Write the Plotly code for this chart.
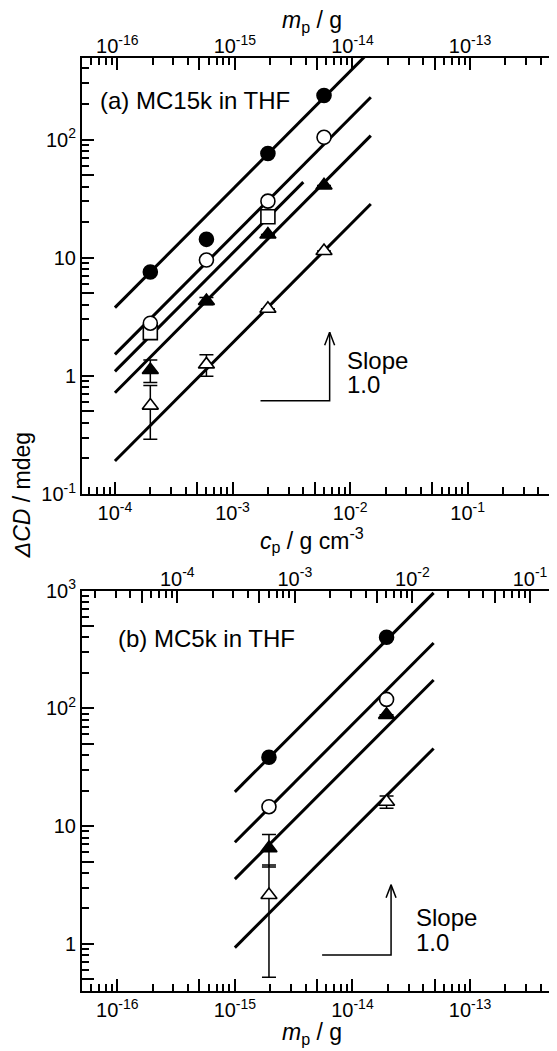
import plotly.graph_objects as go

FONT = "Liberation Sans, Arial, sans-serif"

# ---------------- panel (a): MC15k in THF, x = c_p / g cm^-3 ----------------
a_cp = [2e-4, 6e-4, 2e-3, 6e-3]
a_filled_circle = [7.56, 14.3, 76.2, 236]
a_open_circle = [2.79, 9.55, 30.1, 104.5]
a_square_cp = [2e-4, 2e-3]
a_open_square = [2.32, 22.2]
a_filled_tri = [1.12, 4.3, 15.7, 40.9]
a_filled_tri_err = [0.24, 0.3, 0, 0]
a_open_tri = [0.56, 1.25, 3.7, 11.4]
a_open_tri_err = [0.27, 0.26, 0, 0]

# slope-1 fit lines (start / end values)
a_fit_cp = [[1e-4, 1.5e-2], [1e-4, 1.5e-2], [1e-4, 4e-3], [1e-4, 1.5e-2], [1e-4, 1.5e-2]]
a_fit_cd = [[3.78, 567], [1.52, 228], [1.09, 43.6], [0.72, 108], [0.19, 28.5]]

# slope guide (horizontal then vertical leg)
a_slope_cp = [1.73e-3, 6.7e-3, 6.7e-3]
a_slope_cd = [0.614, 0.614, 2.34]

# ---------------- panel (b): MC5k in THF, x = m_p / g ----------------
b_mp = [1.95e-15, 1.95e-14]
b_filled_circle = [38.4, 401]
b_open_circle = [14.6, 119]
b_filled_tri = [6.5, 88]
b_filled_tri_err = [2.0, 0]
b_open_tri = [2.6, 16.1]
b_open_tri_err = [2.08, 1.9]

b_fit_mp = [[1e-15, 4.9e-14]] * 4
b_fit_cd = [[19.5, 955], [7.3, 358], [3.55, 174], [0.93, 45.6]]

b_slope_mp = [5.52e-15, 2.13e-14, 2.13e-14]
b_slope_cd = [0.805, 0.805, 3.17]

# ---------------- axis ranges (log10) & tick labels ----------------
a_c_range = [-4.28, -0.30]
a_m_range = [-16.30, -12.32]
a_y_range = [-1.0, 2.69]
b_m_range = [-16.30, -12.32]
b_c_range = [-4.81, -0.83]
b_y_range = [-0.40, 3.0]

c_tick_vals = [1e-4, 1e-3, 1e-2, 1e-1]
c_tick_text = ["10<sup>-4</sup>", "10<sup>-3</sup>", "10<sup>-2</sup>", "10<sup>-1</sup>"]
m_tick_vals = [1e-16, 1e-15, 1e-14, 1e-13]
m_tick_text = ["10<sup>-16</sup>", "10<sup>-15</sup>", "10<sup>-14</sup>", "10<sup>-13</sup>"]
a_y_tick_vals = [0.1, 1, 10, 100]
a_y_tick_text = ["10<sup>-1</sup>", "1", "10", "10<sup>2</sup>"]
b_y_tick_vals = [1, 10, 100, 1000]
b_y_tick_text = ["1", "10", "10<sup>2</sup>", "10<sup>3</sup>"]

# page has an 8 px body margin: figure spans page x 8..557, y 8..1051
OFF = 8
W, H = 557 - OFF, 1051 - OFF
L, R = 82, 552          # plot-area page coordinates
T, B = 58, 991


def log_axis(rng, vals, text, **kw):
    lo, hi = int(rng[0]) - 2, int(rng[1]) + 2
    decades = [10.0 ** e for e in range(lo, hi + 1)]
    major = list(vals) + [5 * d for d in decades]
    major_txt = list(text) + [""] * len(decades)
    minor = [k * d for d in decades for k in (2, 3, 4, 6, 7, 8, 9)]
    ax = dict(type="log", range=rng, showline=True, linecolor="black", linewidth=2,
              ticks="inside", ticklen=12, tickwidth=1.8, tickcolor="black",
              tickmode="array", tickvals=major, ticktext=major_txt,
              showgrid=False, zeroline=False, ticklabeloverflow="allow",
              tickfont=dict(family=FONT, size=20, color="black"),
              minor=dict(ticks="inside", ticklen=7, tickwidth=1.8, tickcolor="black",
                         tickmode="array", tickvals=minor, showgrid=False))
    ax.update(kw)
    return ax


fig = go.Figure()

LINE = dict(color="black", width=3)
MK = dict(size=14, line=dict(color="black", width=1.6))


def add_panel(xs_fit, ys_fit, xa, ya, pts):
    for xf, yf in zip(xs_fit, ys_fit):
        fig.add_trace(go.Scatter(x=xf, y=yf, mode="lines", line=LINE,
                                 xaxis=xa, yaxis=ya, hoverinfo="skip"))
    for x, y, sym, fill, err in pts:
        tr = dict(x=x, y=y, mode="markers", xaxis=xa, yaxis=ya,
                  marker=dict(symbol=sym, color=fill, **MK))
        if err is not None:
            tr["error_y"] = dict(type="data", array=err, visible=True, color="black",
                                 thickness=1.5, width=7)
        fig.add_trace(go.Scatter(**tr))


add_panel(a_fit_cp, a_fit_cd, "x", "y", [
    (a_cp, a_open_tri, "triangle-up", "white", a_open_tri_err),
    (a_cp, a_filled_tri, "triangle-up", "black", a_filled_tri_err),
    (a_square_cp, a_open_square, "square", "white", None),
    (a_cp, a_open_circle, "circle", "white", None),
    (a_cp, a_filled_circle, "circle", "black", None),
])
add_panel(b_fit_mp, b_fit_cd, "x3", "y2", [
    (b_mp, b_open_tri, "triangle-up", "white", b_open_tri_err),
    (b_mp, b_filled_tri, "triangle-up", "black", b_filled_tri_err),
    (b_mp, b_open_circle, "circle", "white", None),
    (b_mp, b_filled_circle, "circle", "black", None),
])

# slope guides with open "V" arrowheads
DX, DY = 10 ** (5 / 118), 10 ** (13 / 118)
for sx, sy, xa, ya in [(a_slope_cp, a_slope_cd, "x", "y"), (b_slope_mp, b_slope_cd, "x3", "y2")]:
    fig.add_trace(go.Scatter(x=sx, y=sy, mode="lines", line=dict(color="black", width=1.5),
                             xaxis=xa, yaxis=ya, hoverinfo="skip"))
    xt, yt = sx[-1], sy[-1]
    fig.add_trace(go.Scatter(x=[xt / DX, xt, xt * DX], y=[yt / DY, yt, yt / DY], mode="lines",
                             line=dict(color="black", width=1.5), xaxis=xa, yaxis=ya,
                             hoverinfo="skip"))

# invisible traces so the overlaying (top) axes are drawn
fig.add_trace(go.Scatter(x=[m_tick_vals[1]], y=[1], xaxis="x2", yaxis="y", mode="markers",
                         marker=dict(opacity=0), hoverinfo="skip"))
fig.add_trace(go.Scatter(x=[c_tick_vals[1]], y=[1], xaxis="x4", yaxis="y2", mode="markers",
                         marker=dict(opacity=0), hoverinfo="skip"))

PH = B - T
dom_a = [(B - 494) / PH, 1.0]
dom_b = [0.0, (B - 590.5) / PH]

fig.update_layout(
    width=W, height=H,
    margin=dict(l=L - OFF, r=W - (R - OFF), t=T - OFF, b=H - (B - OFF)),
    paper_bgcolor="white", plot_bgcolor="white",
    showlegend=False,
    font=dict(family=FONT, color="black"),
    xaxis=log_axis(a_c_range, c_tick_vals, c_tick_text, anchor="y", side="bottom"),
    xaxis2=log_axis(a_m_range, m_tick_vals, m_tick_text, anchor="y", side="top", overlaying="x",
                    ticklabelstandoff=-5),
    yaxis=log_axis(a_y_range, a_y_tick_vals, a_y_tick_text, anchor="x", domain=dom_a, mirror=True),
    xaxis3=log_axis(b_m_range, m_tick_vals, m_tick_text, anchor="y2", side="bottom"),
    xaxis4=log_axis(b_c_range, c_tick_vals, c_tick_text, anchor="y2", side="top", overlaying="x3",
                    ticklabelstandoff=-5),
    yaxis2=log_axis(b_y_range, b_y_tick_vals, b_y_tick_text, anchor="x3", domain=dom_b, mirror=True),
)


def px(X):
    return (X - L) / (R - L)


def py(Y):
    return (B - Y) / PH


ann = [
    ("<i>m</i><sub>p</sub> / g", 312.6, 22, "center", 0, 23),
    ("<i>c</i><sub>p</sub> / g cm<sup>-3</sup>", 312.6, 540, "center", 0, 23),
    ("<i>m</i><sub>p</sub> / g", 312.6, 1033, "center", 0, 23),
    ("<i>ΔCD</i> / mdeg", 22, 495, "center", -90, 23),
    ("(a) MC15k in THF", 98, 101, "left", 0, 24),
    ("(b) MC5k in THF", 116, 638, "left", 0, 24),
    ("Slope", 346, 360, "left", 0, 24),
    ("1.0", 346, 384, "left", 0, 24),
    ("Slope", 415, 917, "left", 0, 24),
    ("1.0", 415, 942, "left", 0, 24),
]
for txt, X, Y, xa, ang, fs in ann:
    fig.add_annotation(text=txt, x=px(X), y=py(Y), xref="paper", yref="paper",
                       xanchor=xa, yanchor="middle", showarrow=False, textangle=ang,
                       font=dict(family=FONT, size=fs, color="black"))

fig.write_html("out.html")
